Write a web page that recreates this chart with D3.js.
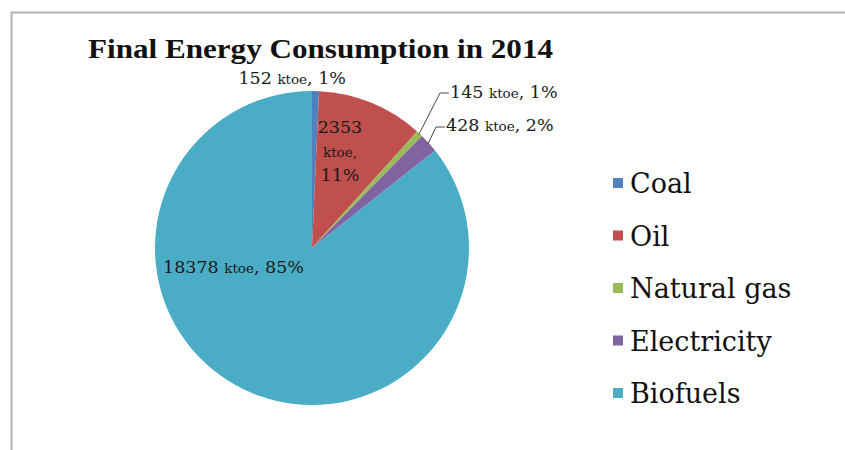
<!DOCTYPE html>
<html>
<head>
<meta charset="utf-8">
<script src="https://cdn.jsdelivr.net/npm/d3@7"></script>
<style>
  html, body { margin: 0; padding: 0; background: #fff; }
  svg { display: block; }
</style>
</head>
<body>
<svg id="chart" width="845" height="450"></svg>
<script>
// Final energy consumption by source, 2014 (ktoe)
const categories = ["Coal", "Oil", "Natural gas", "Electricity", "Biofuels"];
const ktoe = [152, 2353, 145, 428, 18378];
const shares = ["1%", "11%", "1%", "2%", "85%"];
const colors = ["#4F81BD", "#C0504D", "#9BBB59", "#8064A2", "#4BACC6"];

const data = categories.map((c, i) => ({ name: c, value: ktoe[i], share: shares[i], color: colors[i] }));

const svg = d3.select("#chart");
const W = 845, H = 450;
const serif = "'DejaVu Serif', serif";

svg.append("rect").attr("width", W).attr("height", H).attr("fill", "#fff");

// chart area frame (top and left edges visible)
svg.append("path")
  .attr("d", "M11.5,450 V12.5 H845")
  .attr("fill", "none").attr("stroke", "#b4b4b4").attr("stroke-width", 2);

// title
svg.append("text")
  .attr("x", 88).attr("y", 58)
  .attr("font-family", "'Liberation Serif', serif")
  .attr("font-weight", "bold")
  .attr("font-size", 27)
  .attr("fill", "#111")
  .attr("textLength", 465).attr("lengthAdjust", "spacingAndGlyphs")
  .text("Final Energy Consumption in 2014");

// pie
const cx = 312, cy = 248, r = 157;
const pie = d3.pie().value(d => d.value).sort(null);
const arcs = pie(data);
const arc = d3.arc().innerRadius(0).outerRadius(r);

const g = svg.append("g").attr("transform", `translate(${cx},${cy})`);
g.selectAll("path.slice").data(arcs).join("path")
  .attr("class", "slice")
  .attr("d", arc)
  .attr("fill", d => d.data.color);

// label helper: value in larger type, unit in smaller type
function label(parent, x, y, parts, anchor) {
  const t = parent.append("text")
    .attr("x", x).attr("y", y)
    .attr("text-anchor", anchor || "start")
    .attr("font-family", serif)
    .attr("fill", "#1a1a1a");
  parts.forEach(p => t.append("tspan").attr("font-size", p[1]).text(p[0]));
  return t;
}
const NUM = 17.5, UNIT = 13.5;

// edge point at the middle of a slice
function edgePoint(a, rr) {
  const m = (a.startAngle + a.endAngle) / 2;
  return [cx + rr * Math.sin(m), cy - rr * Math.cos(m)];
}

// Coal: above the top of the pie
label(svg, 346, 84, [[ktoe[0] + " ", NUM], ["ktoe", UNIT], [", " + shares[0], NUM]], "end");

// Oil: inside the slice, three lines
const oilX = 340;
label(svg, oilX, 133, [[String(ktoe[1]), NUM]], "middle");
label(svg, oilX, 157, [["ktoe,", UNIT]], "middle");
label(svg, oilX, 181, [[shares[1], NUM]], "middle");

// Natural gas & Electricity: outside with leader lines
const leaders = [
  { i: 2, bend: [440, 93], textY: 98 },
  { i: 3, bend: [436, 127], textY: 131 }
];
leaders.forEach(l => {
  const p = edgePoint(arcs[l.i], r - 1);
  svg.append("path")
    .attr("d", `M${p[0]},${p[1]} L${l.bend[0]},${l.bend[1]} H${l.bend[0] + 9}`)
    .attr("fill", "none").attr("stroke", "#333").attr("stroke-width", 0.9);
  label(svg, l.bend[0] + 10, l.textY, [[ktoe[l.i] + " ", NUM], ["ktoe", UNIT], [", " + shares[l.i], NUM]]);
});

// Biofuels: inside, left part of the slice
label(svg, 163, 273, [[ktoe[4] + " ", NUM], ["ktoe", UNIT], [", " + shares[4], NUM]]);

// legend
const legend = svg.append("g");
const ly = d3.scalePoint().domain(categories).range([183, 393]);
categories.forEach((c, i) => {
  legend.append("rect")
    .attr("x", 613).attr("y", ly(c) - 5)
    .attr("width", 10).attr("height", 10)
    .attr("fill", colors[i]);
  legend.append("text")
    .attr("x", 630).attr("y", ly(c) + 10)
    .attr("font-family", serif)
    .attr("font-size", 27)
    .attr("fill", "#111")
    .text(c);
});
</script>
</body>
</html>
